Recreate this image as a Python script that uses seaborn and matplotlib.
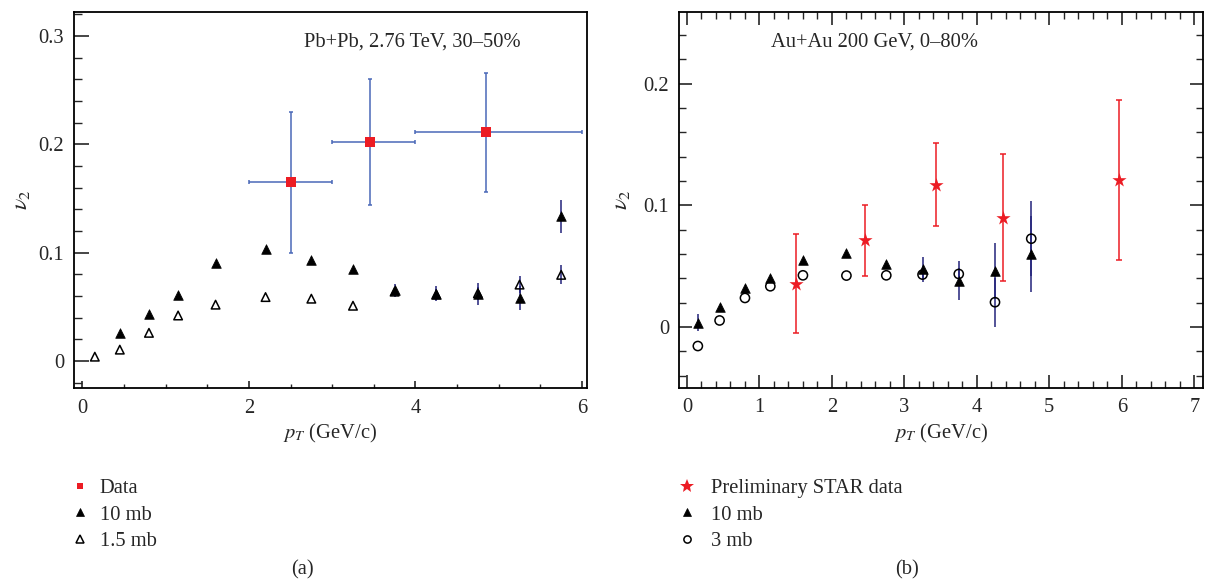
import numpy as np
import pandas as pd
import matplotlib
matplotlib.use("Agg")
import matplotlib.pyplot as plt
import seaborn as sns
from matplotlib.ticker import MultipleLocator, FuncFormatter
from matplotlib.lines import Line2D

# ---------------- panel (a): Pb+Pb 2.76 TeV, 30-50% ----------------
pt_15mb_a = [0.15, 0.45, 0.8, 1.15, 1.6, 2.2, 2.75, 3.25, 3.75, 4.25, 4.75, 5.25, 5.75]
v2_15mb_a = [0.004, 0.0105, 0.026, 0.042, 0.052, 0.059, 0.0575, 0.051, 0.064, 0.0615, 0.0625, 0.0705, 0.0795]
err_15mb_a = [0, 0, 0, 0, 0, 0, 0, 0, 0.004, 0.005, 0.006, 0.008, 0.0087]

pt_10mb_a = [0.45, 0.8, 1.15, 1.6, 2.2, 2.75, 3.25, 3.75, 4.25, 4.75, 5.25, 5.75]
v2_10mb_a = [0.026, 0.043, 0.061, 0.090, 0.103, 0.0935, 0.0845, 0.0655, 0.062, 0.062, 0.0585, 0.1335]
err_10mb_a = [0, 0, 0, 0, 0, 0, 0, 0.006, 0.007, 0.010, 0.011, 0.015]

pt_data_a = [2.5, 3.45, 4.85]
v2_data_a = [0.165, 0.202, 0.211]
xlo_data_a = [0.5, 0.45, 0.85]
xhi_data_a = [0.5, 0.55, 1.15]
yerr_data_a = [0.065, 0.058, 0.055]

# ---------------- panel (b): Au+Au 200 GeV, 0-80% ----------------
pt_b = [0.15, 0.45, 0.8, 1.15, 1.6, 2.2, 2.75, 3.25, 3.75, 4.25, 4.75]
v2_10mb_b = [0.0035, 0.0167, 0.032, 0.040, 0.0555, 0.061, 0.052, 0.0475, 0.038, 0.0465, 0.060]
err_10mb_b = [0.007, 0, 0, 0, 0, 0, 0, 0.010, 0.016, 0.023, 0.031]
v2_3mb_b = [-0.0155, 0.0055, 0.024, 0.0336, 0.0426, 0.0424, 0.0426, 0.0432, 0.0437, 0.0205, 0.0727]
err_3mb_b = [0, 0, 0, 0, 0, 0, 0, 0.004, 0.005, 0.020, 0.031]

pt_star_b = [1.51, 2.46, 3.43, 4.36, 5.96]
v2_star_b = [0.0358, 0.0713, 0.117, 0.0899, 0.121]
err_star_b = [0.041, 0.029, 0.034, 0.052, 0.066]

labels_a = ["Data", "10 mb", "1.5 mb"]
labels_b = ["Preliminary STAR data", "10 mb", "3 mb"]
title_a = "Pb+Pb, 2.76 TeV, 30\u201350%"
title_b = "Au+Au 200 GeV, 0\u201380%"

# ---------------- style ----------------
sns.set_theme(style="ticks")
plt.rcParams["font.family"] = ["Liberation Serif", "DejaVu Serif"]
plt.rcParams["mathtext.fontset"] = "stix"
plt.rcParams["axes.linewidth"] = 1.3
FS = 14.8

RED = "#ec1c24"
BLUE = "#4a68b8"
NAVY = "#23237a"

fig = plt.figure(figsize=(12.1, 5.82), dpi=100)
axa = fig.add_axes([74 / 1210, 1 - 388 / 582, (587 - 74) / 1210, 376 / 582])
axb = fig.add_axes([679 / 1210, 1 - 388 / 582, (1203 - 679) / 1210, 376 / 582])

fmt = FuncFormatter(lambda v, p: "%g" % round(v, 6))


def errs(ax, x, y, e, color, lw=1.1, cap=0, z=2):
    x = np.asarray(x); y = np.asarray(y); e = np.asarray(e)
    m = e > 0
    if m.any():
        ax.errorbar(x[m], y[m], yerr=e[m], fmt="none", ecolor=color,
                    elinewidth=lw, capsize=cap, capthick=lw, zorder=z)


# ---- panel (a)
errs(axa, pt_10mb_a, v2_10mb_a, err_10mb_a, NAVY, z=2)
errs(axa, pt_15mb_a, v2_15mb_a, err_15mb_a, NAVY, z=2)
sns.scatterplot(x=pt_15mb_a, y=v2_15mb_a, ax=axa, marker="^", s=38,
                color="black", facecolor="none", edgecolor="black",
                linewidth=1.1, zorder=3)
sns.scatterplot(x=pt_10mb_a, y=v2_10mb_a, ax=axa, marker="^", s=48,
                color="black", edgecolor="black", linewidth=0.5, zorder=4)
axa.errorbar(pt_data_a, v2_data_a, xerr=[xlo_data_a, xhi_data_a], yerr=yerr_data_a,
             fmt="none", ecolor=BLUE, elinewidth=1.1, capsize=1.6, capthick=1.1,
             zorder=5)
sns.scatterplot(x=pt_data_a, y=v2_data_a, ax=axa, marker="s", s=60,
                color=RED, edgecolor=RED, linewidth=0, zorder=6)

axa.set_xlim(-0.1, 6.06)
axa.set_ylim(-0.0249, 0.322)
axa.xaxis.set_major_locator(MultipleLocator(2))
axa.xaxis.set_minor_locator(MultipleLocator(0.5))
axa.yaxis.set_major_locator(MultipleLocator(0.1))
axa.yaxis.set_minor_locator(MultipleLocator(0.02))
axa.xaxis.set_major_formatter(fmt)
axa.yaxis.set_major_formatter(fmt)
axa.tick_params(axis="y", which="major", direction="in", length=10.5, width=1.2,
                left=True, right=False, labelsize=FS, pad=7)
axa.tick_params(axis="y", which="minor", direction="in", length=5.4, width=1.0,
                left=True, right=False)
axa.tick_params(axis="x", which="major", direction="in", length=5, width=1.2,
                bottom=True, top=False, labelsize=FS, pad=8)
axa.tick_params(axis="x", which="minor", direction="in", length=3, width=1.0,
                bottom=True, top=False)
axa.text(0.448, 0.92, title_a, transform=axa.transAxes, fontsize=FS,
         ha="left", va="center")

# ---- panel (b)
errs(axb, pt_b, v2_10mb_b, err_10mb_b, NAVY, z=2)
errs(axb, pt_b, v2_3mb_b, err_3mb_b, NAVY, z=2)
sns.scatterplot(x=pt_b, y=v2_3mb_b, ax=axb, marker="o", s=44,
                color="black", facecolor="none", edgecolor="black",
                linewidth=1.1, zorder=3)
sns.scatterplot(x=pt_b, y=v2_10mb_b, ax=axb, marker="^", s=48,
                color="black", edgecolor="black", linewidth=0.5, zorder=4)
axb.errorbar(pt_star_b, v2_star_b, yerr=err_star_b, fmt="none", ecolor=RED,
             elinewidth=1.1, capsize=2, capthick=1.1, zorder=5)
sns.scatterplot(x=pt_star_b, y=v2_star_b, ax=axb, marker="*", s=115,
                color=RED, edgecolor=RED, linewidth=0, zorder=6)

axb.set_xlim(-0.11, 7.12)
axb.set_ylim(-0.05, 0.259)
axb.xaxis.set_major_locator(MultipleLocator(1))
axb.xaxis.set_minor_locator(MultipleLocator(0.2))
axb.yaxis.set_major_locator(MultipleLocator(0.1))
axb.yaxis.set_minor_locator(MultipleLocator(0.02))
axb.xaxis.set_major_formatter(fmt)
axb.yaxis.set_major_formatter(fmt)
axb.tick_params(axis="both", which="major", direction="in", length=9.5, width=1.2,
                left=True, right=True, top=True, bottom=True, labelsize=FS, pad=7)
axb.tick_params(axis="both", which="minor", direction="in", length=5.2, width=1.0,
                left=True, right=True, top=True, bottom=True)
axb.text(0.176, 0.92, title_b, transform=axb.transAxes, fontsize=FS,
         ha="left", va="center")

for ax in (axa, axb):
    for s in ax.spines.values():
        s.set_visible(True)
        s.set_color("black")
        s.set_linewidth(1.3)
    ax.set_xlabel("$p_T$ (GeV/c)", fontsize=FS)
    ax.xaxis.set_label_coords(0.5, -(433 - 388) / 376)
    ax.xaxis.label.set_va("center")
    ax.set_ylabel("$\\nu_2$", fontsize=FS + 2)
    ax.yaxis.label.set_va("center")

axa.yaxis.set_label_coords(-(74 - 22) / 513, 0.5)
axb.yaxis.set_label_coords(-(679 - 622) / 524, 0.5)

# ---- legends
hand_a = [
    Line2D([], [], ls="none", marker="s", ms=4.8, mfc=RED, mec=RED, mew=0),
    Line2D([], [], ls="none", marker="^", ms=5.5, mfc="black", mec="black", mew=0.5),
    Line2D([], [], ls="none", marker="^", ms=5.3, mfc="none", mec="black", mew=1.1),
]
hand_b = [
    Line2D([], [], ls="none", marker="*", ms=10.5, mfc=RED, mec=RED, mew=0),
    Line2D([], [], ls="none", marker="^", ms=5.5, mfc="black", mec="black", mew=0.5),
    Line2D([], [], ls="none", marker="o", ms=5.2, mfc="none", mec="black", mew=1.1),
]
fig.legend(hand_a, labels_a, loc="upper left", bbox_to_anchor=(70 / 1210, 1 - 479 / 582),
           frameon=False, fontsize=FS, handlelength=1.0, handletextpad=0.45,
           labelspacing=0.33, borderpad=0, borderaxespad=0)
fig.legend(hand_b, labels_b, loc="upper left", bbox_to_anchor=(677 / 1210, 1 - 479 / 582),
           frameon=False, fontsize=FS, handlelength=1.0, handletextpad=0.65,
           labelspacing=0.33, borderpad=0, borderaxespad=0)

fig.text(0.25, 1 - 570 / 582, "(a)", fontsize=FS, ha="center", va="center")
fig.text(0.75, 1 - 570 / 582, "(b)", fontsize=FS, ha="center", va="center")

fig.savefig("out.png", dpi=100)
